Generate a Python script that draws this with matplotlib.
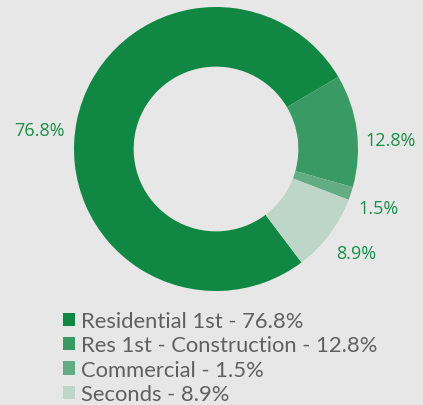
import matplotlib
matplotlib.use("Agg")
import matplotlib.pyplot as plt
from matplotlib.patches import Patch

# slice data
categories = ["Residential 1st", "Res 1st - Construction", "Commercial", "Seconds"]
shares = [76.8, 12.8, 1.5, 8.9]
colors = ["#108843", "#3a9a63", "#63ac84", "#bed6c8"]

bg = "#e7e7e7"
label_col = "#1a8f48"

fig = plt.figure(figsize=(4.23, 4.06), dpi=100, facecolor=bg)
ax = fig.add_axes([0, 0, 1, 1])
ax.set_facecolor(bg)

pct_labels = ["%.1f%%" % s for s in shares]
wedges, texts = ax.pie(shares, colors=colors, labels=pct_labels,
                       startangle=-53, counterclock=False,
                       labeldistance=1.08,
                       wedgeprops=dict(width=0.42, linewidth=0),
                       textprops=dict(color=label_col, fontsize=13,
                                      family="Open Sans"))
# excel-ish label placement: nudge a bit down
for t in texts:
    x, y = t.get_position()
    t.set_position((x - 0.02 if x > 0 else x - 0.01, y - 0.08))

# pixel mapping: centre at (216,150), radius 142px
r = 142.0
ax.set_xlim(-216 / r, (423 - 216) / r)
ax.set_ylim(-(406 - 150) / r, 150 / r)
ax.set_aspect("auto")
ax.axis("off")

handles = [Patch(facecolor=c, edgecolor="none") for c in colors]
leg_labels = ["%s - %.1f%%" % (n, s) for n, s in zip(categories, shares)]
leg = fig.legend(handles, leg_labels, loc="upper left",
                 bbox_to_anchor=(63 / 423, 1 - 312 / 406),
                 frameon=False,
                 handlelength=0.55, handleheight=0.55,
                 handletextpad=0.25, labelspacing=0.2,
                 borderpad=0, borderaxespad=0,
                 prop=dict(family="Lato", size=15.8))
for t in leg.get_texts():
    t.set_color("#606060")

fig.savefig("out.png", dpi=100, facecolor=bg)
